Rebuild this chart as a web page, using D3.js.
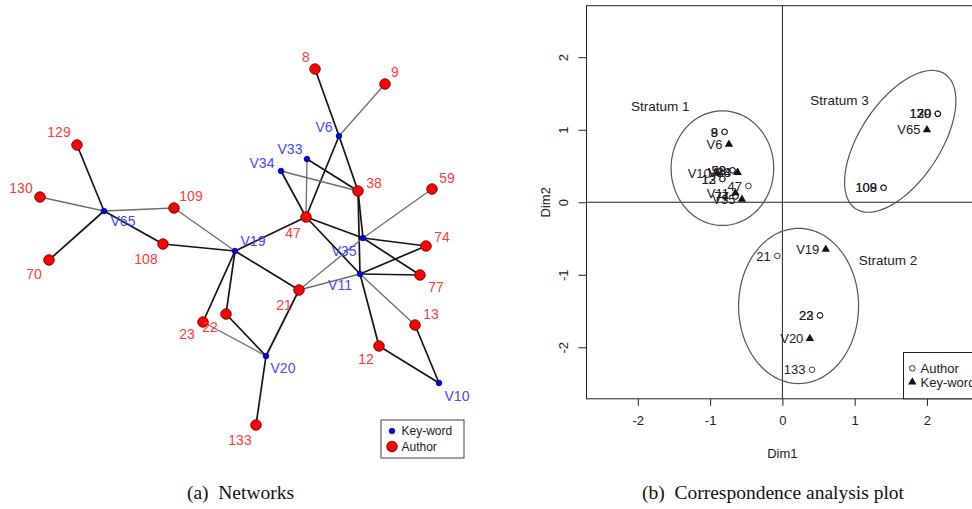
<!DOCTYPE html>
<html><head><meta charset="utf-8">
<script src="https://cdn.jsdelivr.net/npm/d3@7"></script>
<style>body{margin:0;background:#fff} svg{display:block}</style>
</head><body>
<svg id="fig" width="972" height="509"></svg>
<script>
// ---------- (a) author / key-word network ----------
const authorNames = ["8","9","129","130","70","109","108","38","59","47","74","77","21","22","23","13","12","133"];
const authorLayoutX = [0.75,1.45,-1.63,-2.00,-1.91,-0.66,-0.77,1.18,1.92,0.66,1.86,1.80,0.59,-0.14,-0.37,1.75,1.39,0.16];
const authorLayoutY = [1.71,1.56,0.95,0.43,-0.20,0.32,-0.04,0.49,0.51,0.23,-0.06,-0.35,-0.50,-0.74,-0.82,-0.85,-1.06,-1.85];
const keywordNames = ["V6","V33","V34","V65","V19","V35","V11","V20","V10"];
const keywordLayoutX = [0.99,0.67,0.41,-1.36,-0.05,1.23,1.20,0.26,1.99];
const keywordLayoutY = [1.04,0.81,0.69,0.29,-0.11,0.02,-0.34,-1.16,-1.43];
const edgeFrom = ["V65","V65","V65","V65","V65","V19","V19","V19","V19","V19","V19","V20","V20","V20","V20","V6","V6","V6","V6","V33","V33","V34","V34","V35","V11","V35","V11","V35","V35","V35","V35","V11","V11","V11","V11","V11","V10","V10"];
const edgeTo   = ["129","130","70","109","108","108","109","47","21","22","23","22","23","21","133","8","9","38","47","38","47","38","47","47","47","38","38","59","74","77","21","74","77","21","13","12","13","12"];
const edgeWeight = [2,1,2,1,2,2,1,2,2,2,2,2,1,2,2,2,1,2,2,2,1,1,2,2,2,2,2,1,2,2,1,2,2,1,1,2,2,2];

// ---------- (b) correspondence analysis ----------
const caAuthorNames = ["8","9","38","59","47","74","77","12","13","21","22","23","133","108","109","129","130","70"];
const caAuthorDim1 = [-0.80,-0.80,-0.69,-0.69,-0.47,-0.65,-0.65,-0.83,-0.83,-0.07,0.52,0.52,0.41,1.40,1.40,2.15,2.15,2.15];
const caAuthorDim2 = [0.97,0.97,0.44,0.44,0.225,0.08,0.08,0.32,0.32,-0.74,-1.56,-1.56,-2.31,0.20,0.20,1.22,1.22,1.22];
const caKeywordNames = ["V6","V10","V33","V34","V11","V35","V19","V20","V65"];
const caKeywordDim1 = [-0.74,-0.90,-0.62,-0.62,-0.65,-0.56,0.60,0.38,2.00];
const caKeywordDim2 = [0.80,0.40,0.41,0.41,0.13,0.04,-0.65,-1.88,1.00];
const strataNames = ["Stratum 1","Stratum 2","Stratum 3"];
const strataCx = [-0.83,0.224,1.63];
const strataCy = [0.47,-1.43,0.84];
const strataRx = [0.71,0.83,1.115];
const strataRy = [0.79,1.07,0.553];
const strataAngle = [0,0,56.4];
const strataLabelDim1 = [-1.69,1.46,0.79];
const strataLabelDim2 = [1.33,-0.80,1.41];
const axisTicks = [-2,-1,0,1,2];

const svg = d3.select("#fig");
const sans = "Arial, 'Liberation Sans', Helvetica, sans-serif";
const serif = "'Liberation Serif', 'Times New Roman', Times, serif";

// ===== panel (a) =====
const nx = d3.scaleLinear().domain([-2.4, 2.4]).range([0, 480]);
const ny = d3.scaleLinear().domain([-2.4, 2.4]).range([480, 0]);

const nodes = new Map();
authorNames.forEach((n, i) => nodes.set(n, {name: n, type: "author", x: authorLayoutX[i], y: authorLayoutY[i]}));
keywordNames.forEach((n, i) => nodes.set(n, {name: n, type: "keyword", x: keywordLayoutX[i], y: keywordLayoutY[i]}));
const edges = edgeFrom.map((f, i) => ({s: nodes.get(f), t: nodes.get(edgeTo[i]), w: edgeWeight[i]}));

// label placement around each vertex (pixels)
const labelOffset = {
  "8":[-9,-12],"9":[10,-12],"129":[-18,-13],"130":[-19,-9],"70":[-15,14],"109":[17,-12],"108":[-17,15],
  "38":[16,-8],"59":[15,-11],"47":[-13,16],"74":[16,-9],"77":[16,12],"21":[-15,15],"22":[-16,13],
  "23":[-16,12],"13":[16,-11],"12":[-13,13],"133":[-16,15],
  "V6":[-15,-9],"V33":[-17,-10],"V34":[-19,-8],"V65":[19,10],"V19":[18,-10],"V35":[-19,13],
  "V11":[-20,11],"V20":[17,12],"V10":[18,13]
};

const gA = svg.append("g");
gA.selectAll("line.edge").data(edges).join("line")
  .attr("class", "edge")
  .attr("x1", d => nx(d.s.x)).attr("y1", d => ny(d.s.y))
  .attr("x2", d => nx(d.t.x)).attr("y2", d => ny(d.t.y))
  .attr("stroke", d => d.w > 1 ? "#141414" : "#6e6e6e")
  .attr("stroke-width", d => d.w > 1 ? 1.7 : 1.3);

const allNodes = Array.from(nodes.values());
gA.selectAll("circle.node").data(allNodes).join("circle")
  .attr("class", "node")
  .attr("cx", d => nx(d.x)).attr("cy", d => ny(d.y))
  .attr("r", d => d.type === "author" ? 5.3 : 2.8)
  .attr("fill", d => d.type === "author" ? "#ff0000" : "#0000f0")
  .attr("stroke", d => d.type === "author" ? "#5a0000" : "#000070")
  .attr("stroke-width", 0.8);

gA.selectAll("text.nlabel").data(allNodes).join("text")
  .attr("class", "nlabel")
  .attr("x", d => nx(d.x) + labelOffset[d.name][0])
  .attr("y", d => ny(d.y) + labelOffset[d.name][1])
  .attr("dy", "0.36em")
  .attr("text-anchor", "middle")
  .attr("font-family", sans).attr("font-size", 14)
  .attr("fill", d => d.type === "author" ? "#ff3a3a" : "#4646ff")
  .text(d => d.name);

// legend (a)
const legA = gA.append("g");
legA.append("rect").attr("x", 381).attr("y", 420).attr("width", 83).attr("height", 38)
  .attr("fill", "#fff").attr("stroke", "#444").attr("stroke-width", 1);
legA.append("circle").attr("cx", 392).attr("cy", 431).attr("r", 2.8)
  .attr("fill", "#0000f0").attr("stroke", "#000070").attr("stroke-width", 0.8);
legA.append("circle").attr("cx", 392).attr("cy", 446.5).attr("r", 5.3)
  .attr("fill", "#ff0000").attr("stroke", "#5a0000").attr("stroke-width", 0.8);
legA.append("text").attr("x", 401.5).attr("y", 431).attr("dy", "0.36em")
  .attr("font-family", sans).attr("font-size", 12).attr("fill", "#222").text("Key-word");
legA.append("text").attr("x", 401.5).attr("y", 446.5).attr("dy", "0.36em")
  .attr("font-family", sans).attr("font-size", 12).attr("fill", "#222").text("Author");

// ===== panel (b) =====
const cx = d3.scaleLinear().domain([-2.71, 2.71]).range([586.5, 978.3]);
const cy = d3.scaleLinear().domain([-2.71, 2.71]).range([398.8, 5.7]);
const gB = svg.append("g");

// plot frame
gB.append("rect").attr("x", cx(-2.71)).attr("y", cy(2.71))
  .attr("width", cx(2.71) - cx(-2.71)).attr("height", cy(-2.71) - cy(2.71))
  .attr("fill", "none").attr("stroke", "#222").attr("stroke-width", 1);

// reference lines through the origin
gB.append("line").attr("x1", cx(-2.71)).attr("x2", cx(2.71)).attr("y1", cy(0)).attr("y2", cy(0))
  .attr("stroke", "#222").attr("stroke-width", 1);
gB.append("line").attr("x1", cx(0)).attr("x2", cx(0)).attr("y1", cy(2.71)).attr("y2", cy(-2.71))
  .attr("stroke", "#222").attr("stroke-width", 1);

// axes
const xAxis = d3.axisBottom(cx).tickValues(axisTicks).tickSize(7).tickPadding(10).tickFormat(d3.format("d"));
const gx = gB.append("g").attr("transform", `translate(0,${cy(-2.71)})`).call(xAxis);
gx.select(".domain").remove();
gx.selectAll("line").attr("stroke", "#222");
gx.selectAll("text").attr("font-family", sans).attr("font-size", 13).attr("fill", "#222")
  .text(d => d < 0 ? "-" + Math.abs(d) : d);

const yAxis = d3.axisLeft(cy).tickValues(axisTicks).tickSize(8).tickPadding(0).tickFormat(d3.format("d"));
const gy = gB.append("g").attr("transform", `translate(${cx(-2.71)},0)`).call(yAxis);
gy.select(".domain").remove();
gy.selectAll("line").attr("stroke", "#222");
gy.selectAll("text")
  .attr("font-family", sans).attr("font-size", 13).attr("fill", "#222")
  .attr("x", null).attr("dy", null).attr("text-anchor", "middle")
  .attr("transform", "translate(-23,0) rotate(-90)")
  .attr("dominant-baseline", "central")
  .text(d => d < 0 ? "-" + Math.abs(d) : d);

gB.append("text").attr("x", cx(0)).attr("y", 453).attr("dy", "0.36em").attr("text-anchor", "middle")
  .attr("font-family", sans).attr("font-size", 13).attr("fill", "#222").text("Dim1");
gB.append("text").attr("transform", `translate(545,${cy(0)}) rotate(-90)`).attr("text-anchor", "middle")
  .attr("dominant-baseline", "central")
  .attr("font-family", sans).attr("font-size", 13).attr("fill", "#222").text("Dim2");

// strata ellipses drawn in data coordinates
const ellipsePath = (i) => {
  const a = strataAngle[i] * Math.PI / 180;
  const pts = d3.range(0, 361, 3).map(t => {
    const r = t * Math.PI / 180;
    const u = strataRx[i] * Math.cos(r), v = strataRy[i] * Math.sin(r);
    return [cx(strataCx[i] + u * Math.cos(a) - v * Math.sin(a)), cy(strataCy[i] + u * Math.sin(a) + v * Math.cos(a))];
  });
  return d3.line().curve(d3.curveLinearClosed)(pts);
};
gB.selectAll("path.stratum").data(strataNames).join("path")
  .attr("class", "stratum").attr("d", (d, i) => ellipsePath(i))
  .attr("fill", "none").attr("stroke", "#555").attr("stroke-width", 1.2);
gB.selectAll("text.stratum").data(strataNames).join("text")
  .attr("class", "stratum")
  .attr("x", (d, i) => cx(strataLabelDim1[i])).attr("y", (d, i) => cy(strataLabelDim2[i]))
  .attr("dy", "0.36em").attr("text-anchor", "middle")
  .attr("font-family", sans).attr("font-size", 13.5).attr("fill", "#222").text(d => d);

// author points (open circles) and key-word points (filled triangles)
const caAuthors = caAuthorNames.map((n, i) => ({name: n, d1: caAuthorDim1[i], d2: caAuthorDim2[i]}));
const caKeywords = caKeywordNames.map((n, i) => ({name: n, d1: caKeywordDim1[i], d2: caKeywordDim2[i]}));
gB.selectAll("circle.ca").data(caAuthors).join("circle")
  .attr("class", "ca").attr("cx", d => cx(d.d1)).attr("cy", d => cy(d.d2)).attr("r", 2.8)
  .attr("fill", "none").attr("stroke", "#222").attr("stroke-width", 0.9);
const tri = d3.symbol().type(d3.symbolTriangle).size(30);
gB.selectAll("path.ca").data(caKeywords).join("path")
  .attr("class", "ca").attr("d", tri)
  .attr("transform", d => `translate(${cx(d.d1)},${cy(d.d2)})`).attr("fill", "#111");
gB.selectAll("text.ca").data(caAuthors.concat(caKeywords)).join("text")
  .attr("class", "ca").attr("x", d => cx(d.d1) - 6.5).attr("y", d => cy(d.d2))
  .attr("dy", "0.36em").attr("text-anchor", "end")
  .attr("font-family", sans).attr("font-size", 13).attr("fill", "#222").text(d => d.name);

// legend (b)
const legB = gB.append("g");
legB.append("rect").attr("x", 903.5).attr("y", 352.5).attr("width", 100).attr("height", cy(-2.71) - 352.5)
  .attr("fill", "#fff").attr("stroke", "#222").attr("stroke-width", 1);
legB.append("circle").attr("cx", 912.3).attr("cy", 368.3).attr("r", 2.8)
  .attr("fill", "none").attr("stroke", "#222").attr("stroke-width", 0.9);
legB.append("path").attr("d", tri).attr("transform", "translate(912.3,382)").attr("fill", "#111");
legB.append("text").attr("x", 920.5).attr("y", 368.3).attr("dy", "0.36em")
  .attr("font-family", sans).attr("font-size", 13).attr("fill", "#222").text("Author");
legB.append("text").attr("x", 920.5).attr("y", 382).attr("dy", "0.36em")
  .attr("font-family", sans).attr("font-size", 13).attr("fill", "#222").text("Key-word");

// sub-figure captions
svg.append("text").attr("x", 240.5).attr("y", 492).attr("dy", "0.36em").attr("text-anchor", "middle")
  .attr("font-family", serif).attr("font-size", 19.5).attr("fill", "#111").text("(a)\u2002Networks");
svg.append("text").attr("x", 773).attr("y", 492).attr("dy", "0.36em").attr("text-anchor", "middle")
  .attr("font-family", serif).attr("font-size", 19.5).attr("fill", "#111").text("(b)\u2002Correspondence analysis plot");
</script></body></html>
